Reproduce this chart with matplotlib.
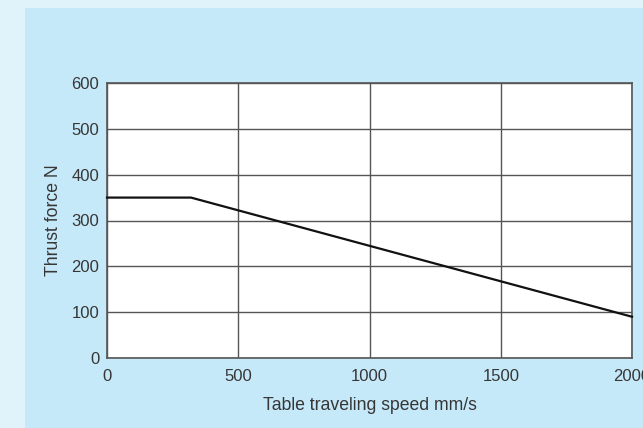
import matplotlib
matplotlib.use("Agg")
import matplotlib.pyplot as plt
from matplotlib.patches import Rectangle

# data
speed = [0, 320, 2000]        # mm/s
thrust = [350, 350, 90]       # N
xticks = [0, 500, 1000, 1500, 2000]
yticks = [0, 100, 200, 300, 400, 500, 600]

plt.rcParams['font.family'] = ['Liberation Sans', 'DejaVu Sans']
txt_col = '#363636'
grid_col = '#555555'

fig = plt.figure(figsize=(6.43, 4.28), dpi=100)
fig.patch.set_facecolor('#e0f3fb')
# inner blue panel, drawn behind the axes
fig.patches.append(Rectangle((25 / 643, 0), 1, 1 - 8 / 428, transform=fig.transFigure,
                             facecolor='#c6e9f9', edgecolor='none', zorder=-10))

ax = fig.add_axes([107 / 643, 1 - 358 / 428, 525 / 643, 275 / 428])
ax.set_zorder(1)
ax.set_facecolor('white')
ax.plot(speed, thrust, color='#111111', lw=1.6, zorder=3, clip_on=False)

ax.set_xlim(0, 2000)
ax.set_ylim(0, 600)
ax.set_xticks(xticks)
ax.set_yticks(yticks)
ax.grid(True, color=grid_col, lw=1.0)
ax.tick_params(length=0, labelsize=12, colors=txt_col)
ax.tick_params(axis='x', pad=8)
ax.tick_params(axis='y', pad=5.5)
for s in ax.spines.values():
    s.set_color(grid_col)
    s.set_linewidth(1.2)

ax.set_xlabel('Table traveling speed mm/s', fontsize=12.7, color=txt_col, labelpad=9)
ax.set_ylabel('Thrust force N', fontsize=12.7, color=txt_col, labelpad=7)

fig.savefig('out.png', dpi=100, facecolor=fig.get_facecolor())
